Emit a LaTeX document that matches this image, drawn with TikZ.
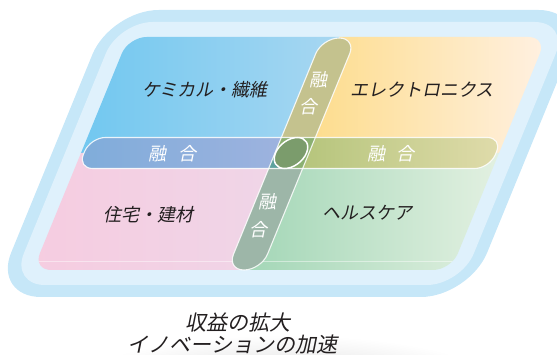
\documentclass[tikz,border=0pt]{standalone}
\usepackage{fontspec}
\newfontfamily\jp[FakeSlant=0.2]{Noto Sans CJK JP}
\definecolor{outerblue}{HTML}{C6E7F8}
\definecolor{lightband}{HTML}{DFF1FC}
\definecolor{blueL}{HTML}{70C7F0}
\definecolor{blueR}{HTML}{A8D7F1}
\definecolor{orangeL}{HTML}{FDDB86}
\definecolor{orangeR}{HTML}{FFF1E4}
\definecolor{pinkL}{HTML}{F6CCE0}
\definecolor{pinkR}{HTML}{EFD6E8}
\definecolor{greenL}{HTML}{A2D6B6}
\definecolor{greenR}{HTML}{E4F1E2}
\definecolor{hbL}{HTML}{7EACDA}
\definecolor{hbLR}{HTML}{A0B3DF}
\definecolor{hbRL}{HTML}{B2C378}
\definecolor{hbR}{HTML}{E1DCAC}
\definecolor{vbTop}{HTML}{C4C28E}
\definecolor{vbBot}{HTML}{9DB6A8}
\definecolor{ovTeal}{HTML}{5DA29E}
\definecolor{ovGreen}{HTML}{8BB071}
\definecolor{core}{HTML}{7B9C6C}
\definecolor{txt}{HTML}{231F20}
\begin{document}
\begin{tikzpicture}[x=1pt,y=-1pt,
  lbl/.style={font=\jp\fontsize{18}{18}\selectfont, text=txt, inner sep=0pt},
  fus/.style={font=\jp\fontsize{18}{18}\selectfont, text=white, inner sep=0pt},
  bot/.style={font=\jp\fontsize{21}{21}\selectfont, text=txt, inner sep=0pt},
  rim/.style={draw=white, line width=1.1pt, draw opacity=0.85}]
\useasboundingbox (0,0) rectangle (557,355);
% soft shadow under the caption
\shade[inner color=black!16, outer color=white] (285,390) ellipse [x radius=220, y radius=55];
\begin{scope}[shift={(0,153)}, xslant=0.41]
  % outer frame
  \fill[outerblue, rounded corners=48] (52,-143) -- (528,-143) -- (528,144) -- (52,144) -- cycle;
  \fill[lightband, rounded corners=34] (65,-131) -- (515,-131) -- (515,132) -- (65,132) -- cycle;
  % quadrants
  \begin{scope}
    \clip[rounded corners=18] (81,-116) -- (499,-116) -- (499,117) -- (81,117) -- cycle;
    \shade[left color=blueL, right color=blueR] (75,-120) -- (292,-120) -- (292,0) -- (75,0) -- cycle;
    \shade[left color=orangeL, right color=orangeR] (292,-120) -- (505,-120) -- (505,0) -- (292,0) -- cycle;
    \shade[left color=pinkL, right color=pinkR] (75,0) -- (292,0) -- (292,121) -- (75,121) -- cycle;
    \shade[left color=greenL, right color=greenR] (292,0) -- (505,0) -- (505,121) -- (292,121) -- cycle;
    \draw[white, opacity=0.45, line width=0.6pt] (70,108) -- (510,108);
  \end{scope}
  % horizontal fusion band
  \begin{scope}
    \clip[rounded corners=15] (84,-15.5) -- (496,-15.5) -- (496,15.5) -- (84,15.5) -- cycle;
    \shade[left color=hbL, right color=hbLR] (80,-16) -- (292,-16) -- (292,16) -- (80,16) -- cycle;
    \shade[left color=hbRL, right color=hbR] (292,-16) -- (500,-16) -- (500,16) -- (292,16) -- cycle;
  \end{scope}
  % vertical fusion band
  \begin{scope}
    \clip[rounded corners=17] (275,-115) -- (309,-115) -- (309,117) -- (275,117) -- cycle;
    \fill[vbTop] (270,-120) rectangle (314,-15.5);
    \fill[vbBot] (270,15.5) rectangle (314,120);
    \fill[ovGreen] (270,-15.5) rectangle (314,15.5);
    \fill[ovTeal] (270,0) rectangle (292,15.5);
  \end{scope}
  % outlines
  \draw[rim, rounded corners=15] (84,-15.5) -- (496,-15.5) -- (496,15.5) -- (84,15.5) -- cycle;
  \draw[rim, rounded corners=17] (275,-115) -- (309,-115) -- (309,117) -- (275,117) -- cycle;
  % core
  \fill[core] (291,0) circle [radius=15.5];
  \draw[white, line width=1.5pt] (291,0) circle [radius=15.5];
\end{scope}
% labels
\node[lbl] (chem) at (205,90) {ケミカル・繊維};
\node[lbl] (elec) at (422,90) {エレクトロニクス};
\node[lbl] (house) at (148,215) {住宅・建材};
\node[lbl] (health) at (367,213) {ヘルスケア};
\node[fus] (fl) at (172.5,154) {融\hspace{12pt}合};
\node[fus] (fr) at (391,154) {融\hspace{12pt}合};
\node[fus] (ft1) at (318.7,80) {融};
\node[fus] (ft2) at (308.7,106.7) {合};
\node[fus] (fb1) at (267.7,201.7) {融};
\node[fus] (fb2) at (258.3,230) {合};
\node[bot] (cap1) at (237.5,322) {収益の拡大};
\node[bot] (cap2) at (232.5,345) {イノベーションの加速};
\end{tikzpicture}
\end{document}
